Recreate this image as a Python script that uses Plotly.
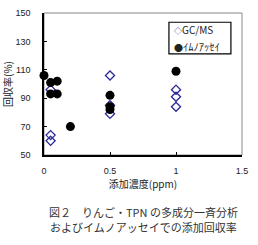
import plotly.graph_objects as go

# Data
gc_x = [0.05, 0.05, 0.05, 0.5, 0.5, 0.5, 1.0, 1.0, 1.0]
gc_y = [96, 64, 60, 106, 85, 79, 96, 91, 84]
ia_x = [0.0, 0.05, 0.1, 0.05, 0.1, 0.2, 0.5, 0.5, 0.5, 1.0]
ia_y = [106, 101, 102, 93, 93, 70, 92, 84, 82, 109]
x_ticks = [0, 0.5, 1, 1.5]
x_tick_text = ["0", "0.5", "1", "1.5"]
y_ticks = [50, 70, 90, 110, 130, 150]
series_names = ["GC/MS", "ｲﾑﾉｱｯｾｲ"]

font = "Noto Sans CJK JP, Noto Sans, sans-serif"
navy = "#2a2a9a"

fig = go.Figure()
fig.add_trace(go.Scatter(
    x=gc_x, y=gc_y, mode="markers", name=series_names[0], cliponaxis=False,
    marker=dict(symbol="diamond-open", size=7, color=navy, line=dict(width=1.3, color=navy)),
))
fig.add_trace(go.Scatter(
    x=ia_x, y=ia_y, mode="markers", name=series_names[1], cliponaxis=False,
    marker=dict(symbol="circle", size=9, color="black"),
))

fig.update_layout(
    width=258, height=245,
    margin=dict(l=44, r=16, t=13, b=90, autoexpand=False),
    paper_bgcolor="white", plot_bgcolor="white",
    font=dict(family=font, size=10, color="#222"),
    showlegend=False,
    xaxis=dict(range=[0, 1.5], tickvals=x_ticks, ticktext=x_tick_text,
               ticks="inside", ticklen=3, tickcolor="black",
               showline=True, linecolor="black", linewidth=1.5,
               showgrid=False, zeroline=False, ticklabelstandoff=6,
               title=dict(text="添加濃度(ppm)", font=dict(size=10), standoff=4),
               tickfont=dict(size=9, family="Liberation Sans, Arial, sans-serif")),
    yaxis=dict(range=[50, 150], tickvals=y_ticks,
               ticks="inside", ticklen=3, tickcolor="black",
               showline=True, linecolor="black", linewidth=1.5,
               showgrid=False, zeroline=False, ticklabelstandoff=10,
               title=dict(text="回収率(%)", font=dict(size=10), standoff=2),
               tickfont=dict(size=9, family="Liberation Sans, Arial, sans-serif")),
    shapes=[
        dict(type="rect", xref="paper", yref="paper", x0=0, y0=0, x1=1, y1=1,
             line=dict(color="#888", width=1), layer="below"),
        dict(type="rect", xref="paper", yref="paper", x0=0.631, y0=0.712, x1=0.944, y1=0.935,
             line=dict(color="black", width=1.2), fillcolor="white", layer="above"),
    ],
    annotations=[
        dict(text=f"<span style='color:{navy};font-size:8px'>◇</span>{series_names[0]}",
             xref="paper", yref="paper", x=0.645, y=0.885, xanchor="left", yanchor="middle",
             showarrow=False, font=dict(size=10, color="#222")),
        dict(text=f"<span style='font-size:9px'>●</span>{series_names[1]}",
             xref="paper", yref="paper", x=0.645, y=0.765, xanchor="left", yanchor="middle",
             showarrow=False, font=dict(size=10.5, color="#222")),
        dict(text="図２　りんご・TPN の多成分一斉分析", xref="paper", yref="paper",
             x=0.5, y=-0.40, xanchor="center", yanchor="middle", showarrow=False,
             font=dict(size=11, color="#333")),
        dict(text="およびイムノアッセイでの添加回収率", xref="paper", yref="paper",
             x=0.5, y=-0.507, xanchor="center", yanchor="middle", showarrow=False,
             font=dict(size=11, color="#333")),
    ],
)

fig.write_html("out.html")
